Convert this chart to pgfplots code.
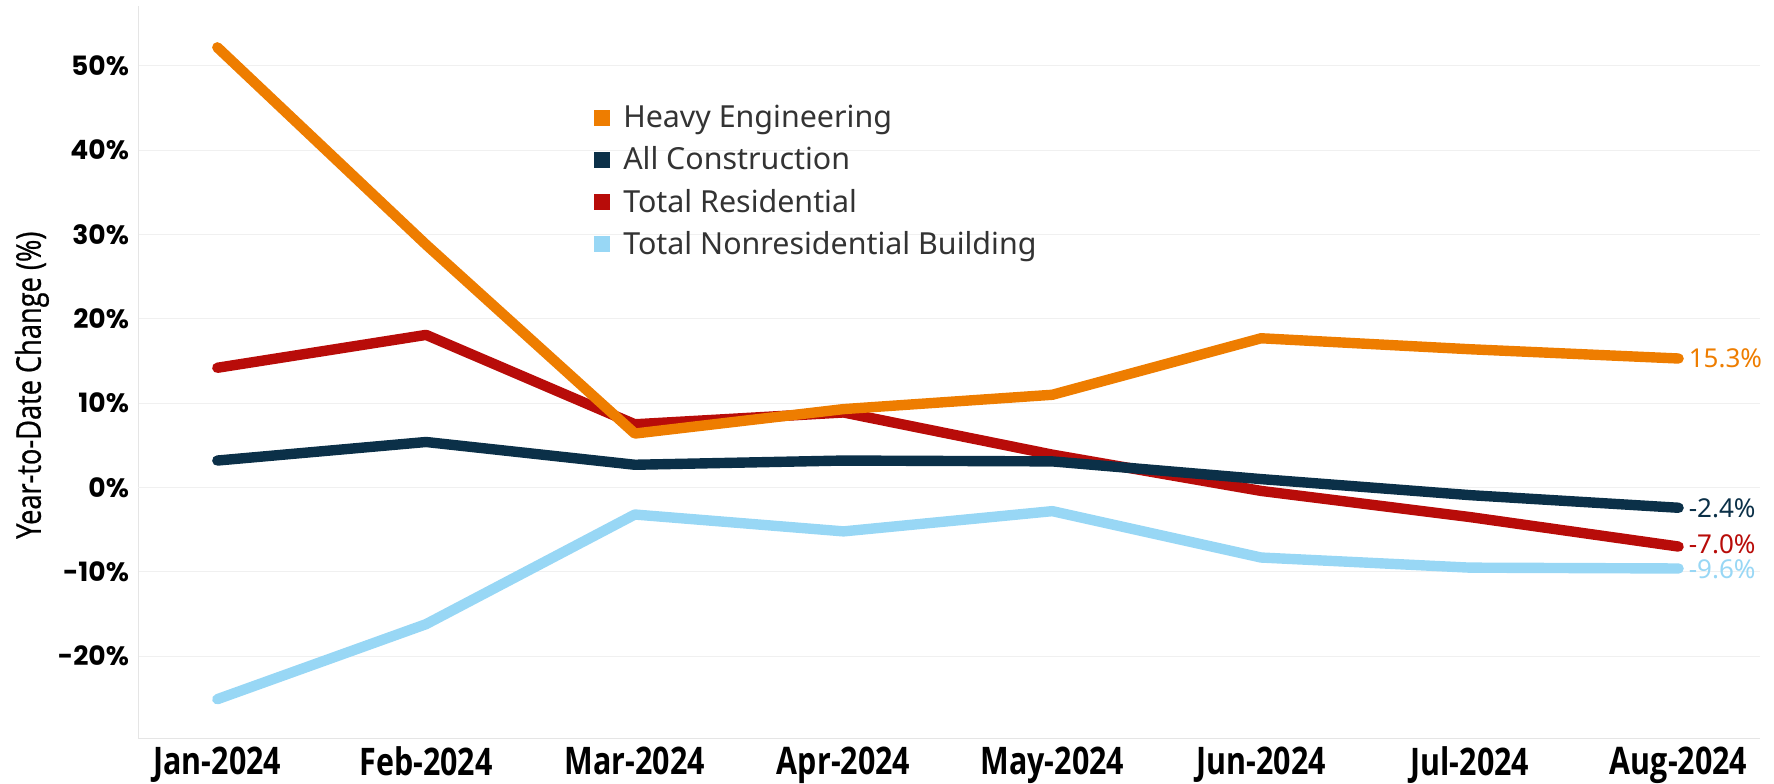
\documentclass[border=0pt]{standalone}
\usepackage{pgfplots}
\pgfplotsset{compat=1.18}
\usepackage{fontspec}
\setmainfont{Open Sans}
\newfontfamily\tickfont{Poppins}
\newfontfamily\condfont[FakeStretch=0.8]{Open Sans}
\newfontfamily\condmed[FakeStretch=0.8,FakeBold=0.7]{Open Sans}
\newfontfamily\legfont{Noto Sans}
\definecolor{heavy}{HTML}{EE7D00}
\definecolor{allc}{HTML}{0B3048}
\definecolor{resi}{HTML}{B80C09}
\definecolor{nonres}{HTML}{98D7F5}
\definecolor{txt}{HTML}{333333}
\begin{document}
\begin{tikzpicture}[endlab/.style={anchor=west, font=\legfont\fontsize{13}{15}\selectfont, inner sep=1pt, xshift=1.5pt}]
\begin{axis}[
  scale only axis,
  width=811pt, height=366pt,
  xmin=-0.38, xmax=7.39,
  ymin=-29.7, ymax=57.1,
  xtick={0,1,2,3,4,5,6,7},
  xticklabels={Jan-2024,Feb-2024,Mar-2024,Apr-2024,May-2024,Jun-2024,Jul-2024,Aug-2024},
  ytick={-20,-10,0,10,20,30,40,50},
  yticklabels={-20\%,-10\%,0\%,10\%,20\%,30\%,40\%,50\%},
  xticklabel style={font=\condfont\bfseries\fontsize{19}{21}\selectfont, text=black, yshift=-1pt},
  yticklabel style={font=\tickfont\bfseries\fontsize{13.3}{15}\selectfont, text=black, xshift=-1pt},
  major tick length=0pt,
  axis lines*=left,
  axis line style={draw=black!10, -},
  ymajorgrids,
  major grid style={draw=black!6, line width=0.6pt},
  extra y ticks={0},
  extra y tick labels={},
  extra y tick style={grid style={draw=black!45, dotted, line width=0.5pt}},
  ylabel={Year-to-Date Change (\%)},
  ylabel style={at={(axis description cs:-0.0654,0.482)}, anchor=center, font=\condmed\fontsize{17}{19}\selectfont, text=black},
  clip=false,
  reverse legend,
  legend style={at={(axis cs:1.775,46.3)}, anchor=north west, draw=none, fill=none,
    font=\legfont\fontsize{15.2}{18}\selectfont, text=txt, row sep=4pt,
    /tikz/every odd column/.append style={column sep=4.5pt}},
  legend cell align=left,
  legend image code/.code={\fill[#1, draw=none] (0pt,-4pt) rectangle (8pt,4pt);},
  every axis plot/.append style={line width=5.2pt, line cap=round, line join=round},
]
\addplot[nonres] coordinates {(0,-25.1) (1,-16.2) (2,-3.2) (3,-5.2) (4,-2.8) (5,-8.3) (6,-9.5) (7,-9.6)}
  node[endlab, pos=1, text=nonres, yshift=-0.5pt] {-9.6\%};
\addlegendentry{Total Nonresidential Building}
\addplot[resi] coordinates {(0,14.2) (1,18.1) (2,7.5) (3,8.9) (4,3.9) (5,-0.4) (6,-3.5) (7,-7.0)}
  node[endlab, pos=1, text=resi, yshift=1pt] {-7.0\%};
\addlegendentry{Total Residential}
\addplot[allc] coordinates {(0,3.2) (1,5.4) (2,2.7) (3,3.2) (4,3.1) (5,1.0) (6,-0.9) (7,-2.4)}
  node[endlab, pos=1, text=allc] {-2.4\%};
\addlegendentry{All Construction}
\addplot[heavy] coordinates {(0,52.2) (1,28.8) (2,6.4) (3,9.3) (4,11.0) (5,17.7) (6,16.4) (7,15.3)}
  node[endlab, pos=1, text=heavy] {15.3\%};
\addlegendentry{Heavy Engineering}
\end{axis}
\pgfresetboundingbox
\path ([shift={(-69pt,-22.5pt)}]current axis.south west) rectangle ([shift={(7pt,3pt)}]current axis.north east);
\end{tikzpicture}
\end{document}
